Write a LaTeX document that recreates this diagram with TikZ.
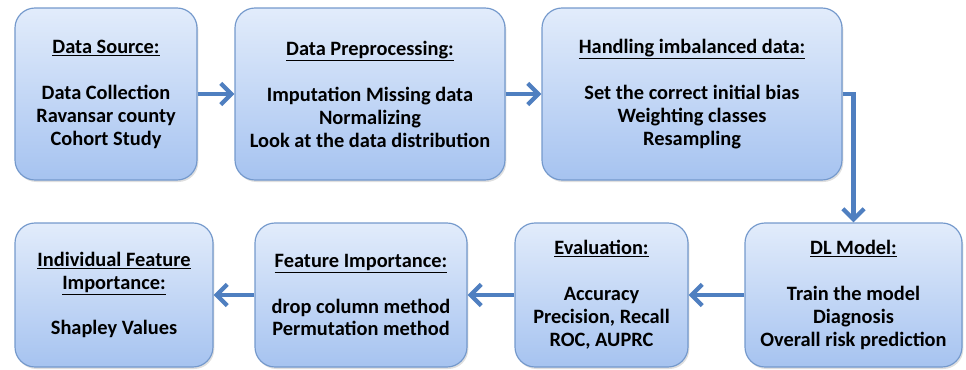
\documentclass[tikz,border=0pt]{standalone}
\usepackage{fontspec}
\setmainfont{Carlito}
\usetikzlibrary{arrows.meta,shadows}
\definecolor{boxtop}{HTML}{E2ECFB}
\definecolor{boxbot}{HTML}{A6C3F0}
\definecolor{boxline}{HTML}{7499CC}
\definecolor{flow}{HTML}{4F7FC0}
\begin{document}
\begin{tikzpicture}[
    stage/.style={draw=boxline, line width=1pt, rounded corners=0.6cm,
        top color=boxtop, bottom color=boxbot, align=center, inner sep=0pt,
        font=\fontsize{17.4}{19.6}\selectfont\bfseries,
        drop shadow={opacity=0.25, shadow xshift=0.04cm, shadow yshift=-0.06cm}},
    flowarrow/.style={draw=flow, line width=3.6pt,
        -{Straight Barb[length=0.32cm, width=0.64cm, line width=3.6pt]}}]
    \useasboundingbox (0,0) rectangle (28.98,11.07);
    \node [stage, minimum width=5.46cm, minimum height=5.16cm] (src) at (3.18,8.25)
        {\underline{Data Source:}\\[19.6pt] Data Collection\\ Ravansar county\\ Cohort Study};
    \node [stage, minimum width=8.10cm, minimum height=5.16cm] (prep) at (11.10,8.25)
        {\underline{Data Preprocessing:}\\[19.6pt] Imputation Missing data\\ Normalizing\\ Look at the data distribution};
    \node [stage, minimum width=9.00cm, minimum height=5.16cm] (imb) at (20.76,8.25)
        {\underline{Handling imbalanced data:}\\[19.6pt] Set the correct initial bias\\ Weighting classes\\ Resampling};
    \node [stage, minimum width=6.51cm, minimum height=4.32cm] (dl) at (25.605,2.22)
        {\underline{DL Model:}\\[19.6pt] Train the model\\ Diagnosis\\ Overall risk prediction};
    \node [stage, minimum width=5.19cm, minimum height=4.32cm] (eval) at (18.045,2.22)
        {\underline{Evaluation:}\\[19.6pt] Accuracy\\ Precision, Recall\\ ROC, AUPRC};
    \node [stage, minimum width=6.36cm, minimum height=4.32cm] (feat) at (10.83,2.22)
        {\underline{Feature Importance:}\\[19.6pt] drop column method\\ Permutation method};
    \node [stage, minimum width=5.94cm, minimum height=4.32cm] (indiv) at (3.42,2.22)
        {\underline{Individual Feature}\\ \underline{Importance:}\\[19.6pt] Shapley Values};
    \draw [flowarrow] (src) -- (prep);
    \draw [flowarrow] (prep) -- (imb);
    \draw [flowarrow] (imb.east) -| (dl.north);
    \draw [flowarrow] (dl) -- (eval);
    \draw [flowarrow] (eval) -- (feat);
    \draw [flowarrow] (feat) -- (indiv);
\end{tikzpicture}
\end{document}
